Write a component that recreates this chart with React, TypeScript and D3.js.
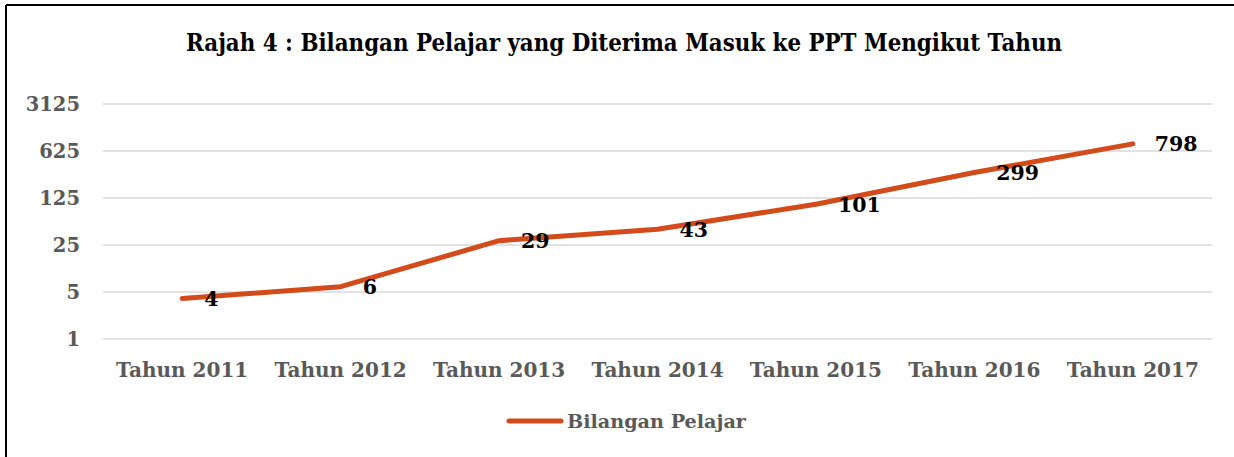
import React from "react";
import * as d3 from "d3";

const categories = ["Tahun 2011", "Tahun 2012", "Tahun 2013", "Tahun 2014", "Tahun 2015", "Tahun 2016", "Tahun 2017"];
const values = [4, 6, 29, 43, 101, 299, 798];
const yTicks = [1, 5, 25, 125, 625, 3125];
const title = "Rajah 4 : Bilangan Pelajar yang Diterima Masuk ke PPT Mengikut Tahun";
const seriesName = "Bilangan Pelajar";

const W = 1234;
const H = 457;
const LINE = "#D34B1A";
const GREY = "#595959";
const FONT = "'DejaVu Serif', serif";

export default function App() {
  const x = d3.scalePoint<string>().domain(categories).range([103, 1212]).padding(0.5);
  const y = d3.scaleLog().base(5).domain([1, 3125]).range([339, 104]);
  const line = d3
    .line<number>()
    .x((_, i) => x(categories[i]) as number)
    .y((d) => y(d))
    .curve(d3.curveLinear);

  return (
    <svg width={W} height={H} style={{ position: "absolute", left: 0, top: 0, background: "#fff" }}>
      <rect x={0} y={0} width={W} height={H} fill="#fff" />
      <line x1={6} y1={5} x2={W} y2={5} stroke="#000" strokeWidth={2} />
      <line x1={6} y1={5} x2={6} y2={H} stroke="#000" strokeWidth={2} />
      <text x={624} y={51} textAnchor="middle" fontFamily={FONT} fontWeight="bold" fontSize={24} fill="#000" textLength={876} lengthAdjust="spacingAndGlyphs">
        {title}
      </text>
      {yTicks.map((t) => (
        <g key={t}>
          <line x1={103} x2={1212} y1={y(t)} y2={y(t)} stroke="#D9D9D9" strokeWidth={1.5} />
          <text x={80} y={y(t)} dy="0.36em" textAnchor="end" fontFamily={FONT} fontWeight="bold" fontSize={19.5} fill={GREY}>
            {t}
          </text>
        </g>
      ))}
      {categories.map((c) => (
        <text key={c} x={x(c)} y={377} textAnchor="middle" fontFamily={FONT} fontWeight="bold" fontSize={20} fill={GREY}>
          {c}
        </text>
      ))}
      <path d={line(values) || ""} fill="none" stroke={LINE} strokeWidth={5} strokeLinecap="round" strokeLinejoin="round" />
      {values.map((v, i) => (
        <text key={i} x={(x(categories[i]) as number) + 22} y={y(v)} dy="0.36em" fontFamily={FONT} fontWeight="bold" fontSize={20.5} fill="#000">
          {v}
        </text>
      ))}
      <line x1={509} x2={561} y1={421} y2={421} stroke={LINE} strokeWidth={5} strokeLinecap="round" />
      <text x={567} y={428} fontFamily={FONT} fontWeight="bold" fontSize={19.2} fill={GREY}>
        {seriesName}
      </text>
    </svg>
  );
}
